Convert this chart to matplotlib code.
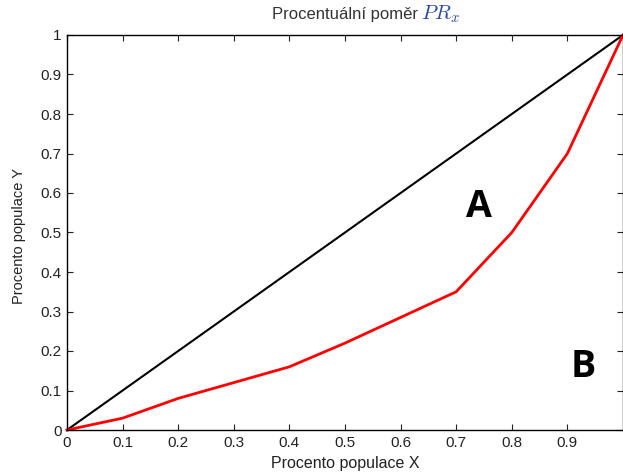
import matplotlib
matplotlib.use("Agg")
import matplotlib.pyplot as plt

x_equal = [0, 1]
y_equal = [0, 1]
x_lorenz = [0, 0.1, 0.2, 0.3, 0.4, 0.5, 0.6, 0.7, 0.8, 0.9, 1.0]
y_lorenz = [0, 0.03, 0.08, 0.12, 0.16, 0.22, 0.285, 0.35, 0.5, 0.7, 1.0]
xticks = [0, 0.1, 0.2, 0.3, 0.4, 0.5, 0.6, 0.7, 0.8, 0.9]
yticks = [0, 0.1, 0.2, 0.3, 0.4, 0.5, 0.6, 0.7, 0.8, 0.9, 1]

plt.rcParams['font.family'] = ['Liberation Sans', 'DejaVu Sans']
plt.rcParams['mathtext.fontset'] = 'cm'

W, H = 623, 473
fig = plt.figure(figsize=(W/100, H/100), dpi=100)
ax = fig.add_axes([67/W, 43/H, 556/W, 395/H])
ax.plot(x_equal, y_equal, color='black', lw=1.5, clip_on=False)
ax.plot(x_lorenz, y_lorenz, color='red', lw=2, clip_on=False)
ax.set_xlim(0, 1)
ax.set_ylim(0, 1)
ax.set_xticks(xticks)
ax.set_xticklabels([f"{v:g}" for v in xticks])
ax.set_yticks(yticks)
ax.set_yticklabels([f"{v:g}" for v in yticks])
ax.tick_params(direction='in', top=True, right=True, labelsize=11, length=4,
               colors='#222222', pad=4)
for s in ax.spines.values():
    s.set_linewidth(1.0)
ax.set_xlabel('Procento populace X', fontsize=11.5, color='#222222')
ax.xaxis.set_label_coords(0.5, -(456 - 430) / 395, transform=ax.transAxes)
ax.set_ylabel('Procento populace Y', fontsize=10.5, color='#222222')
ax.yaxis.set_label_coords(-(67 - 26) / 556, 0.491, transform=ax.transAxes)
fig.text(418/W, 1 - 14/H, 'Procentuální poměr', fontsize=12, color='#333333', ha='right', va='center')
fig.text(421/W, 1 - 14/H, r'$PR_x$', fontsize=15, color='#2b4aa8', ha='left', va='center')
ax.text(0.74, 0.565, 'A', fontsize=27, fontweight='bold', ha='center', va='center', family=['Open Sans', 'DejaVu Sans'])
ax.text(0.928, 0.16, 'B', fontsize=27, fontweight='bold', ha='center', va='center', family=['Open Sans', 'DejaVu Sans'])
fig.savefig('out.png', dpi=100)
